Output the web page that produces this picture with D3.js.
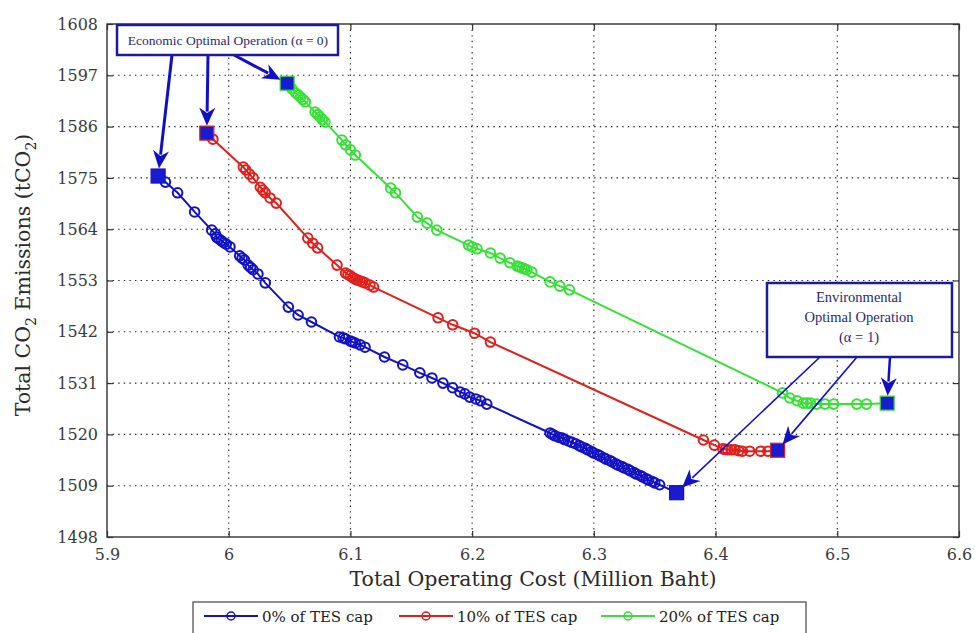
<!DOCTYPE html>
<html>
<head>
<meta charset="utf-8">
<script src="https://cdn.jsdelivr.net/npm/d3@7"></script>
<style>
  html, body { margin: 0; padding: 0; background: #fff; }
  svg { display: block; }
  svg text { font-family: "DejaVu Serif", "Liberation Serif", serif; }
</style>
</head>
<body>
<svg id="chart" width="975" height="633"></svg>
<script>
// Pareto fronts: total operating cost (million Baht) vs total CO2 emissions (tCO2)
const cost0 = [5.942, 5.948, 5.958, 5.972, 5.986, 5.989, 5.990, 5.992, 5.994, 5.996, 5.998, 6.001, 6.009, 6.011, 6.013, 6.016, 6.018, 6.020, 6.024, 6.030,
  6.049, 6.057, 6.068, 6.091, 6.094, 6.096, 6.100, 6.102, 6.104, 6.108, 6.112, 6.128, 6.143, 6.157, 6.167, 6.176, 6.184, 6.190, 6.194, 6.198,
  6.203, 6.207, 6.212, 6.264, 6.266, 6.268, 6.271, 6.274, 6.276, 6.279, 6.282, 6.285, 6.288, 6.290, 6.293, 6.295, 6.298, 6.300, 6.303, 6.305,
  6.308, 6.310, 6.313, 6.315, 6.318, 6.320, 6.323, 6.325, 6.328, 6.330, 6.333, 6.335, 6.338, 6.340, 6.343, 6.345, 6.348, 6.350, 6.354, 6.368];
const co2_0 = [1575.4, 1574.1, 1571.8, 1567.7, 1563.8, 1563.0, 1562.3, 1561.9, 1561.5, 1561.1, 1560.8, 1560.2, 1558.3, 1557.8, 1557.4, 1556.3, 1555.8, 1555.3, 1554.4, 1552.5,
  1547.3, 1545.6, 1544.1, 1540.9, 1540.7, 1540.5, 1540.0, 1539.8, 1539.6, 1539.2, 1538.7, 1536.6, 1534.9, 1533.2, 1532.1, 1531.0, 1530.0, 1529.1, 1528.7, 1528.0,
  1527.6, 1527.2, 1526.5, 1520.3, 1520.0, 1519.7, 1519.4, 1519.2, 1518.9, 1518.6, 1518.3, 1518.0, 1517.6, 1517.3, 1517.0, 1516.7, 1516.3, 1516.0, 1515.7, 1515.4,
  1515.0, 1514.7, 1514.4, 1514.1, 1513.7, 1513.4, 1513.1, 1512.8, 1512.5, 1512.2, 1511.8, 1511.5, 1511.2, 1510.9, 1510.5, 1510.2, 1509.9, 1509.6, 1509.2, 1507.5];

const cost10 = [5.982, 5.987, 6.012, 6.014, 6.017, 6.020, 6.026, 6.028, 6.030, 6.034, 6.039, 6.065, 6.069, 6.073, 6.089, 6.096, 6.098, 6.100,
  6.102, 6.104, 6.106, 6.108, 6.110, 6.112, 6.116, 6.119, 6.172, 6.184, 6.202, 6.215, 6.390, 6.399, 6.406, 6.408, 6.410, 6.413, 6.416, 6.419, 6.422,
  6.428, 6.437, 6.443, 6.451];
const co2_10 = [1584.6, 1583.3, 1577.3, 1576.7, 1575.8, 1575.0, 1573.0, 1572.4, 1571.8, 1570.7, 1569.6, 1562.1, 1561.0, 1560.0, 1556.3, 1554.6, 1554.3, 1554.0,
  1553.6, 1553.3, 1553.1, 1552.9, 1552.7, 1552.5, 1552.0, 1551.6, 1545.0, 1543.5, 1541.7, 1539.8, 1518.8, 1517.7, 1516.9, 1516.8, 1516.7, 1516.7, 1516.7, 1516.5, 1516.4,
  1516.4, 1516.4, 1516.4, 1516.6];

const cost20 = [6.048, 6.050, 6.052, 6.055, 6.057, 6.059, 6.061, 6.063, 6.071, 6.073, 6.075, 6.077, 6.079, 6.093, 6.096, 6.100, 6.104, 6.133, 6.137, 6.155, 6.163,
  6.171, 6.197, 6.200, 6.204, 6.215, 6.223, 6.231, 6.237, 6.239, 6.241, 6.243, 6.245, 6.249, 6.264, 6.272, 6.280, 6.455, 6.461, 6.467, 6.472,
  6.475, 6.478, 6.483, 6.490, 6.497, 6.516, 6.524, 6.541];
const co2_20 = [1595.3, 1594.7, 1594.1, 1593.2, 1592.8, 1592.3, 1591.8, 1591.3, 1589.1, 1588.6, 1588.1, 1587.5, 1587.0, 1583.1, 1582.1, 1581.0, 1579.9, 1572.8, 1571.8, 1566.6, 1565.3,
  1563.8, 1560.6, 1560.2, 1559.8, 1558.9, 1557.8, 1556.8, 1556.1, 1555.9, 1555.7, 1555.5, 1555.3, 1554.8, 1552.7, 1551.8, 1551.0, 1528.9, 1527.8, 1527.2, 1526.7,
  1526.7, 1526.7, 1526.5, 1526.5, 1526.5, 1526.5, 1526.5, 1526.7];

const seriesNames = ["0% of TES cap", "10% of TES cap", "20% of TES cap"];
const seriesColors = ["#1212c4", "#e0201c", "#38e038"];
const xTicks = [5.9, 6.0, 6.1, 6.2, 6.3, 6.4, 6.5, 6.6];
const xTickLabels = ["5.9", "6", "6.1", "6.2", "6.3", "6.4", "6.5", "6.6"];
const yTicks = [1498, 1509, 1520, 1531, 1542, 1553, 1564, 1575, 1586, 1597, 1608];

const series = [[cost0, co2_0], [cost10, co2_10], [cost20, co2_20]].map(([xs, ys], i) => ({
  name: seriesNames[i],
  color: seriesColors[i],
  pts: xs.map((x, j) => ({ x, y: ys[j] }))
}));

const serif = "'DejaVu Serif', 'Liberation Serif', serif";
const bookSerif = "'Liberation Serif', 'DejaVu Serif', serif";
const svg = d3.select("#chart");
const plot = { left: 107, right: 959, top: 24, bottom: 537 };

const x = d3.scaleLinear().domain([5.9, 6.6]).range([plot.left, plot.right]);
const y = d3.scaleLinear().domain([1498, 1608]).range([plot.bottom, plot.top]);

// dotted grid
const grid = svg.append("g");
grid.selectAll("line.gx").data(xTicks.slice(1, -1)).join("line")
  .attr("x1", d => x(d)).attr("x2", d => x(d))
  .attr("y1", plot.top).attr("y2", plot.bottom)
  .attr("stroke", "#222").attr("stroke-width", 1.1).attr("stroke-dasharray", "1.4,4.2");
grid.selectAll("line.gy").data(yTicks.slice(1, -1)).join("line")
  .attr("y1", d => y(d)).attr("y2", d => y(d))
  .attr("x1", plot.left).attr("x2", plot.right)
  .attr("stroke", "#222").attr("stroke-width", 1.1).attr("stroke-dasharray", "1.4,4.2");

// axes with inward ticks on all four sides
const axisStyle = g => {
  g.attr("font-family", null);
  g.select(".domain").remove();
  g.selectAll(".tick line").attr("stroke", "#333").attr("stroke-width", 1.2);
  g.selectAll(".tick text").attr("fill", "#3a3a3a").style("font-family", serif).style("font-size", "16px");
};
svg.append("g").attr("transform", `translate(0,${plot.bottom})`)
  .call(d3.axisBottom(x).tickValues(xTicks).tickFormat((d, i) => xTickLabels[i]).tickSizeInner(-6).tickPadding(12))
  .call(axisStyle);
svg.append("g").attr("transform", `translate(0,${plot.top})`)
  .call(d3.axisTop(x).tickValues(xTicks).tickFormat("").tickSizeInner(-6))
  .call(axisStyle);
svg.append("g").attr("transform", `translate(${plot.left},0)`)
  .call(d3.axisLeft(y).tickValues(yTicks).tickFormat(d3.format("d")).tickSizeInner(-6).tickPadding(9))
  .call(axisStyle);
svg.append("g").attr("transform", `translate(${plot.right},0)`)
  .call(d3.axisRight(y).tickValues(yTicks).tickFormat("").tickSizeInner(-6))
  .call(axisStyle);

svg.append("rect")
  .attr("x", plot.left).attr("y", plot.top)
  .attr("width", plot.right - plot.left).attr("height", plot.bottom - plot.top)
  .attr("fill", "none").attr("stroke", "#333").attr("stroke-width", 1.4);

// axis titles
svg.append("text")
  .attr("x", 533).attr("y", 586)
  .attr("text-anchor", "middle").style("font-family", serif).style("font-size", "20.5px").attr("fill", "#2a2a2a")
  .text("Total Operating Cost (Million Baht)");

const yTitle = svg.append("text")
  .attr("transform", `translate(30,275) rotate(-90)`)
  .attr("text-anchor", "middle").style("font-family", serif).style("font-size", "20.5px").attr("fill", "#2a2a2a");
yTitle.append("tspan").text("Total CO");
yTitle.append("tspan").style("font-size", "14px").attr("dy", 6).text("2");
yTitle.append("tspan").attr("dy", -6).text(" Emissions (tCO");
yTitle.append("tspan").style("font-size", "14px").attr("dy", 6).text("2");
yTitle.append("tspan").attr("dy", -6).text(")");

// series lines and circle markers
const line = d3.line().x(d => x(d.x)).y(d => y(d.y));
series.forEach(s => {
  const g = svg.append("g");
  g.append("path").datum(s.pts).attr("d", line)
    .attr("fill", "none").attr("stroke", s.color).attr("stroke-width", 2);
  g.selectAll("circle").data(s.pts.slice(1, -1)).join("circle")
    .attr("cx", d => x(d.x)).attr("cy", d => y(d.y)).attr("r", 4.8)
    .attr("fill", "none").attr("stroke", s.color).attr("stroke-width", 2);
  // optimal-operation endpoints as filled squares
  const ends = [s.pts[0], s.pts[s.pts.length - 1]];
  g.selectAll("rect").data(ends).join("rect")
    .attr("x", d => x(d.x) - 7).attr("y", d => y(d.y) - 7)
    .attr("width", 14).attr("height", 14)
    .attr("fill", "#1a1ad0").attr("stroke", s.color).attr("stroke-width", 1.2);
});

// annotation callouts
const navy = "#1c1c9a";
const arrowBlue = "#1010c8";

function arrow(from, to, width) {
  const dx = to[0] - from[0], dy = to[1] - from[1];
  const len = Math.hypot(dx, dy), ux = dx / len, uy = dy / len;
  const tip = [to[0] - ux * 7.5, to[1] - uy * 7.5];
  const L = 18, W = 8;
  const back = [tip[0] - ux * L, tip[1] - uy * L];
  svg.append("line")
    .attr("x1", from[0]).attr("y1", from[1])
    .attr("x2", back[0] + ux * 4).attr("y2", back[1] + uy * 4)
    .attr("stroke", arrowBlue).attr("stroke-width", width);
  const p = [
    tip,
    [back[0] - uy * W, back[1] + ux * W],
    [tip[0] - ux * L * 0.7, tip[1] - uy * L * 0.7],
    [back[0] + uy * W, back[1] - ux * W]
  ];
  svg.append("path").attr("d", "M" + p.map(q => q.join(",")).join("L") + "Z").attr("fill", arrowBlue);
}

// economic optimum (alpha = 0): first point of each front
const econStarts = [[172, 55], [208, 55], [234, 55]];
series.forEach((s, i) => arrow(econStarts[i], [x(s.pts[0].x), y(s.pts[0].y)], 3));
svg.append("rect").attr("x", 117).attr("y", 25).attr("width", 221).attr("height", 30)
  .attr("fill", "#fff").attr("stroke", navy).attr("stroke-width", 2.5);
svg.append("text").attr("x", 228).attr("y", 45).attr("text-anchor", "middle")
  .style("font-family", bookSerif).style("font-size", "13.5px").attr("fill", "#2a2a70")
  .text("Economic Optimal Operation (\u03B1 = 0)");

// environmental optimum (alpha = 1): last point of each front
const envStarts = [[820, 357], [857, 357], [890, 357]];
series.forEach((s, i) => {
  const e = s.pts[s.pts.length - 1];
  arrow(envStarts[i], [x(e.x), y(e.y)], i === 2 ? 2.5 : 1.6);
});
svg.append("rect").attr("x", 767).attr("y", 283).attr("width", 185).attr("height", 74)
  .attr("fill", "#fff").attr("stroke", navy).attr("stroke-width", 2.5);
const envText = svg.append("text").attr("text-anchor", "middle")
  .style("font-family", bookSerif).style("font-size", "14.5px").attr("fill", "#2a2a70");
["Environmental", "Optimal Operation", "(\u03B1 = 1)"].forEach((t, i) => {
  envText.append("tspan").attr("x", 859).attr("y", 302 + i * 20).text(t);
});

// legend
const legend = svg.append("g");
legend.append("rect").attr("x", 193).attr("y", 602).attr("width", 613).attr("height", 40)
  .attr("fill", "#fff").attr("stroke", "#444").attr("stroke-width", 1.2);
const legendX = [204, 399, 601];
series.forEach((s, i) => {
  const g = legend.append("g").attr("transform", `translate(${legendX[i]},616)`);
  g.append("line").attr("x1", 0).attr("x2", 54).attr("stroke", s.color).attr("stroke-width", 2);
  g.append("circle").attr("cx", 27).attr("r", 4).attr("fill", "none").attr("stroke", s.color).attr("stroke-width", 1.5);
  g.append("text").attr("x", 58).attr("y", 6).style("font-family", serif).style("font-size", "15px").attr("fill", "#222").text(s.name);
});
</script>
</body>
</html>
